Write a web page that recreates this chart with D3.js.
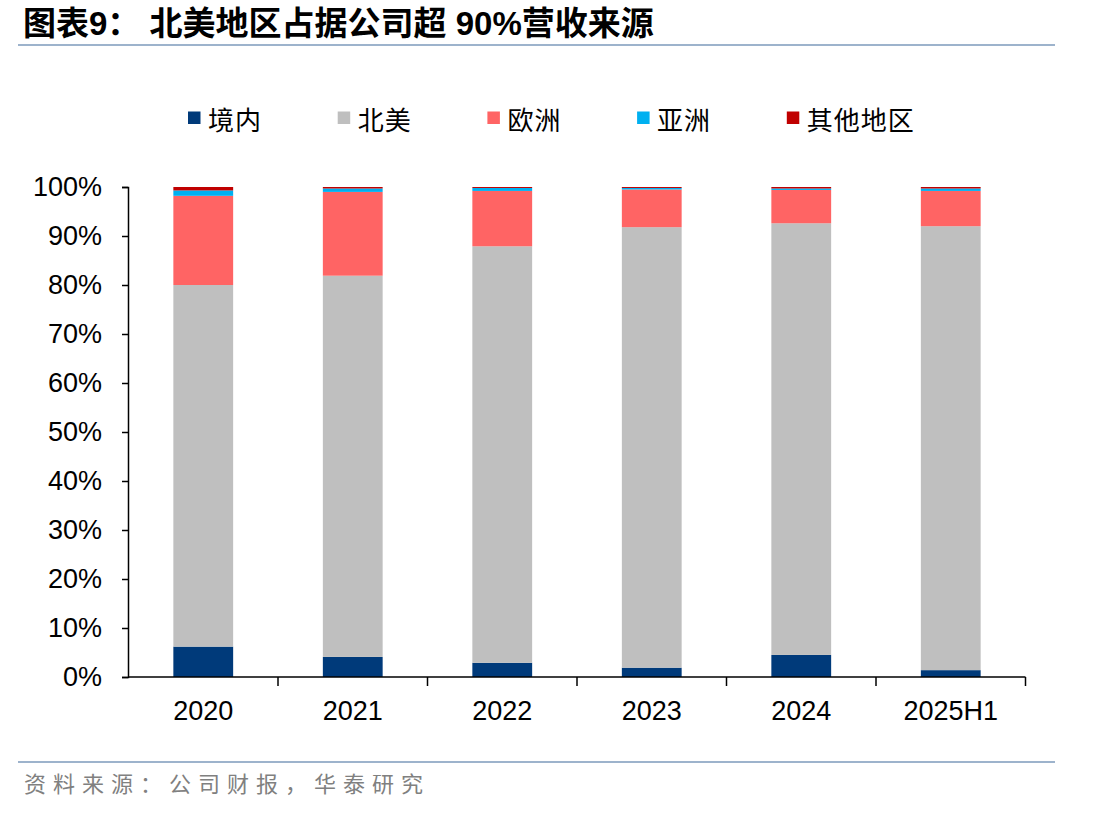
<!DOCTYPE html>
<html><head><meta charset="utf-8">
<script src="https://cdn.jsdelivr.net/npm/d3@7"></script>
<style>body{margin:0;background:#fff}svg{display:block}</style>
</head><body>
<svg id="c" width="1112" height="816"></svg>
<script>
const categories = ["2020","2021","2022","2023","2024","2025H1"];
const seriesNames = ["境内","北美","欧洲","亚洲","其他地区"];
const domestic = [6.2, 4.1, 2.9, 1.9, 4.5, 1.4];
const northAmerica = [73.8, 77.8, 85.0, 89.9, 88.1, 90.6];
const europe = [18.2, 17.1, 11.3, 7.7, 6.8, 7.2];
const asia = [1.1, 0.7, 0.6, 0.3, 0.3, 0.5];
const others = [0.7, 0.3, 0.2, 0.2, 0.3, 0.3];
const yTicks = [0,10,20,30,40,50,60,70,80,90,100];
const colors = ["#003A7A","#BFBFBF","#FF6464","#00B0F0","#C00000"];

const svg = d3.select("#c");
const seriesVals = [domestic, northAmerica, europe, asia, others];
const rows = categories.map((c,i)=>{const r={cat:c}; seriesNames.forEach((s,j)=>r[s]=seriesVals[j][i]); return r;});
const stack = d3.stack().keys(seriesNames)(rows);

const x = d3.scaleBand().domain(categories).range([128.5,1025.5]).paddingInner(0.6).paddingOuter(0.3);
const y = d3.scaleLinear().domain([0,100]).range([677,187]);

// title
svg.append("text").attr("x",23).attr("y",35)
  .attr("font-family","'Liberation Sans','Noto Sans CJK SC',sans-serif")
  .attr("font-weight","bold").attr("font-size",33).attr("fill","#000")
  .text("图表9：  北美地区占据公司超 90%营收来源");
svg.append("line").attr("x1",18).attr("x2",1055).attr("y1",45).attr("y2",45)
  .attr("stroke","#9DB3CC").attr("stroke-width",2);

// legend
const leg = svg.append("g");
seriesNames.forEach((s,i)=>{
  const gx = 188 + i*149.7;
  leg.append("rect").attr("x",gx).attr("y",111.5).attr("width",12.5).attr("height",12.5).attr("fill",colors[i]);
  leg.append("text").attr("x",gx+20).attr("y",129.5)
    .attr("font-family","'Noto Sans CJK SC',sans-serif").attr("font-size",26)
    .attr("letter-spacing",1).attr("fill","#000").text(s);
});

// bars
const g = svg.append("g");
stack.forEach((layer,i)=>{
  g.selectAll(null).data(layer).enter().append("rect")
    .attr("x",d=>x(d.data.cat)).attr("width",x.bandwidth())
    .attr("y",d=>y(d[1])).attr("height",d=>y(d[0])-y(d[1]))
    .attr("fill",colors[i]);
});

// y axis
const yAxis = d3.axisLeft(y).tickValues(yTicks).tickFormat(d=>d+"%").tickSize(6).tickPadding(20);
const ya = svg.append("g").attr("transform","translate(128,0)").call(yAxis);
ya.select(".domain").attr("stroke","#000").attr("stroke-width",1.5);
ya.selectAll(".tick line").attr("stroke","#000").attr("stroke-width",1.5);
ya.selectAll("text").attr("font-family","'Liberation Sans',Arial,sans-serif").attr("font-size",27).attr("fill","#000");

// x axis (labels)
const xAxis = d3.axisBottom(x).tickSize(0).tickPadding(24);
const xa = svg.append("g").attr("transform","translate(0,677)").call(xAxis);
xa.select(".domain").remove();
xa.selectAll("text").attr("font-family","'Liberation Sans',Arial,sans-serif").attr("font-size",27).attr("fill","#000");
// x axis line and boundary ticks
svg.append("line").attr("x1",x.range()[0]-0.5).attr("x2",x.range()[1]).attr("y1",677).attr("y2",677)
  .attr("stroke","#000").attr("stroke-width",1.5);
const bounds = categories.map(c=>x(c)+x.bandwidth()+x.step()*x.paddingInner()/2);
svg.selectAll(null).data(bounds).enter().append("line")
  .attr("x1",d=>d).attr("x2",d=>d).attr("y1",677).attr("y2",686)
  .attr("stroke","#000").attr("stroke-width",1.5);

// footer
svg.append("line").attr("x1",18).attr("x2",1055).attr("y1",762).attr("y2",762)
  .attr("stroke","#9DB3CC").attr("stroke-width",2);
svg.append("text").attr("x",24).attr("y",792)
  .attr("font-family","'Noto Sans CJK SC',sans-serif").attr("font-size",22)
  .attr("letter-spacing",7).attr("fill","#808080")
  .text("资料来源：公司财报，华泰研究");
</script>
</body></html>
